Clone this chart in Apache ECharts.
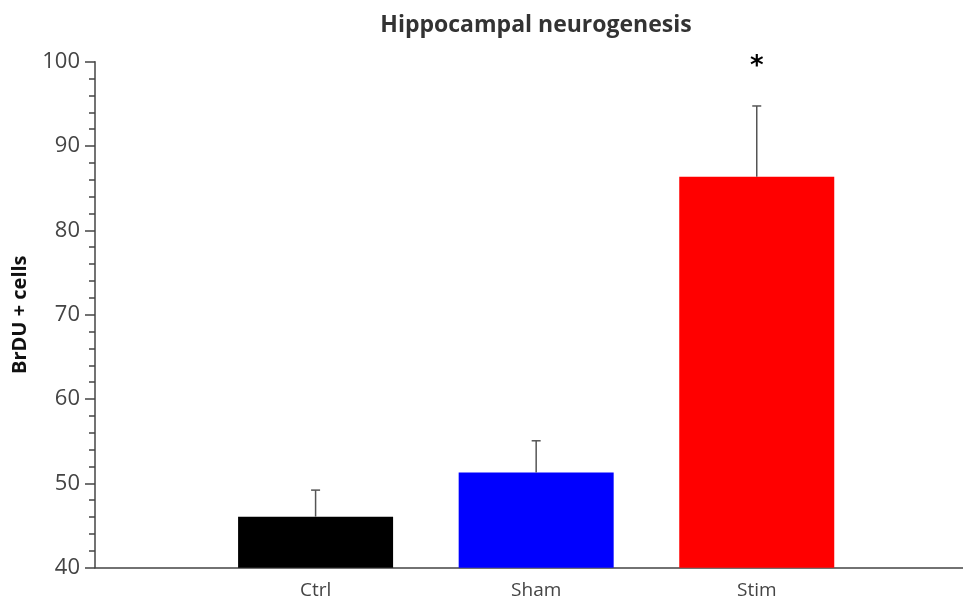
<!DOCTYPE html>
<html><head><meta charset="utf-8">
<script src="https://cdn.jsdelivr.net/npm/echarts@6/dist/echarts.min.js"></script>
<style>html,body{margin:0;padding:0;background:#fff}#c{width:963px;height:599px}</style>
</head><body><div id="c"></div>
<script>
const categories = ['Ctrl', 'Sham', 'Stim'];
const means = [46.05, 51.3, 86.35];
const errors = [3.15, 3.75, 8.4];
const colors = ['#000000', '#0000ff', '#ff0000'];
const significance = ['', '', '*'];
const yTicks = [40, 50, 60, 70, 80, 90, 100];

const chart = echarts.init(document.getElementById('c'));
const barData = means.map((v, i) => ({ value: [i + 1, v], itemStyle: { color: colors[i] } }));
const errData = means.map((v, i) => [i + 1, v, v + errors[i]]);
const sigData = significance.map((s, i) => [i + 1, 100, s]);

chart.setOption({
  animation: false,
  title: {
    text: 'Hippocampal neurogenesis',
    left: 531, top: 9, textAlign: 'center',
    textStyle: { fontFamily: 'Open Sans', fontWeight: 'bold', fontSize: 23, color: '#333' }
  },
  grid: { left: 95, right: 0, top: 61.7, bottom: 31.3, containLabel: false, outerBoundsMode: 'none' },
  xAxis: {
    type: 'value', min: 0, max: 3.935, interval: 1,
    axisLine: { show: true, lineStyle: { color: '#444', width: 1.5 } },
    axisTick: { show: false },
    splitLine: { show: false },
    axisLabel: {
      fontFamily: 'Open Sans', fontSize: 19, color: '#444', margin: 13,
      formatter: v => categories[v - 1] || ''
    }
  },
  yAxis: {
    type: 'value', min: yTicks[0], max: yTicks[yTicks.length - 1], interval: 10,
    name: 'BrDU + cells', nameLocation: 'middle', nameGap: 65, nameRotate: 90,
    nameTextStyle: { fontFamily: 'Open Sans', fontWeight: 'bold', fontSize: 20, color: '#111' },
    axisLine: { show: true, lineStyle: { color: '#444', width: 1.5 } },
    axisTick: { show: true, inside: false, length: 10, lineStyle: { color: '#444', width: 1.5 } },
    minorTick: { show: true, splitNumber: 5, length: 6, lineStyle: { color: '#444', width: 1.5 } },
    splitLine: { show: false },
    axisLabel: { fontFamily: 'Open Sans', fontSize: 22, color: '#444', margin: 15 }
  },
  series: [
    { type: 'bar', data: barData, barWidth: 155 },
    {
      type: 'custom', data: errData, z: 5,
      renderItem: (params, api) => {
        const base = api.coord([api.value(0), api.value(1)]);
        const top = api.coord([api.value(0), api.value(2)]);
        const st = { stroke: '#555', lineWidth: 1.5 };
        return { type: 'group', children: [
          { type: 'line', shape: { x1: base[0], y1: base[1], x2: top[0], y2: top[1] }, style: st },
          { type: 'line', shape: { x1: top[0] - 4.5, y1: top[1], x2: top[0] + 4.5, y2: top[1] }, style: st }
        ]};
      }
    },
    {
      type: 'custom', data: sigData, z: 6,
      renderItem: (params, api) => {
        const p = api.coord([api.value(0), api.value(1)]);
        return { type: 'text', x: p[0], y: p[1] + 6, style: {
          text: sigData[params.dataIndex][2], fill: '#000', fontFamily: 'DejaVu Sans', fontWeight: 'bold',
          fontSize: 26, align: 'center', verticalAlign: 'middle' } };
      }
    }
  ]
});
</script></body></html>
